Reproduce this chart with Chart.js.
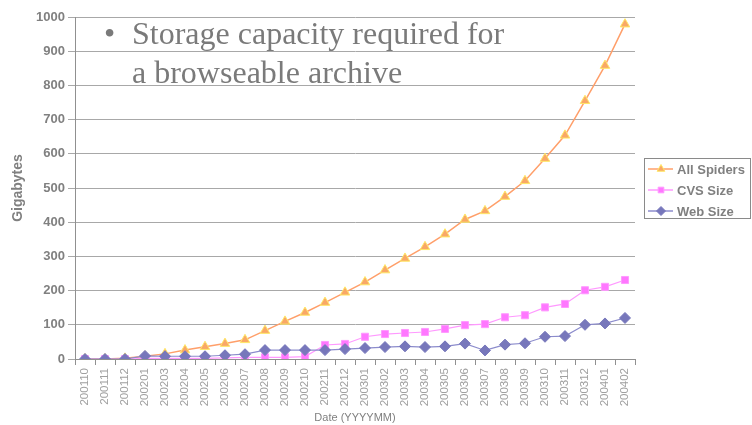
<!DOCTYPE html>
<html>
<head>
<meta charset="utf-8">
<script src="https://cdn.jsdelivr.net/npm/chart.js@4/dist/chart.umd.min.js"></script>
<style>
  html, body { margin: 0; padding: 0; background: #fff; }
  #wrap { position: relative; width: 752px; height: 425px; }
  #note {
    position: absolute; left: 104px; top: 14px;
    font-family: "Liberation Serif", "Times New Roman", serif;
    font-size: 32px; line-height: 39px; color: #7a7a7a;
    pointer-events: none;
  }
  #note .dot { display: inline-block; width: 28px; }
</style>
</head>
<body>
<div id="wrap">
  <canvas id="chart" width="752" height="425"></canvas>
  <div id="note"><span class="dot">•</span>Storage capacity required for<br><span class="dot"></span>a browseable archive</div>
</div>
<script>
// === Dữ liệu ===
const months = ['200110', '200111', '200112', '200201', '200203', '200204', '200205', '200206', '200207',
    '200208', '200209', '200210', '200211', '200212', '200301', '200302', '200303', '200304', '200305',
    '200306', '200307', '200308', '200309', '200310', '200311', '200312', '200401', '200402'];

const allSpiders = [0, 0, 2, 8, 15, 26, 36, 45, 56, 83, 110, 136, 165, 195, 225, 260, 294, 328, 365,
    408, 433, 475, 521, 586, 654, 755, 858, 979];
const cvsSize = [0, 0, 0, 2, 2, 2, 2, 3, 5, 5, 5, 7, 41, 44, 65, 73, 76, 79, 88,
    99, 102, 122, 128, 151, 161, 201, 211, 231];
const webSize = [0, 0, 0, 9, 8, 8, 8, 11, 14, 26, 26, 26, 26, 29, 32, 35, 37, 35, 37,
    45, 25, 42, 46, 65, 67, 100, 104, 120];

const yTicks = [0, 100, 200, 300, 400, 500, 600, 700, 800, 900, 1000];

const GRAY = '#808080';
const FONT = '"Liberation Sans", Arial, sans-serif';

// Chú thích có khung viền như bản gốc
const boxLegend = {
    id: 'boxLegend',
    afterDraw(chart) {
        const ctx = chart.ctx;
        const x0 = 644, y0 = 158, w = 106, h = 60;
        ctx.save();
        ctx.strokeStyle = '#8a8a8a';
        ctx.lineWidth = 1;
        ctx.strokeRect(x0 + 0.5, y0 + 0.5, w, h);
        ctx.font = 'bold 13px ' + FONT;
        ctx.textBaseline = 'middle';
        chart.data.datasets.forEach((ds, i) => {
            const y = y0 + 11 + i * 21;
            ctx.strokeStyle = ds.borderColor;
            ctx.lineWidth = 1.5;
            ctx.beginPath();
            ctx.moveTo(x0 + 4, y);
            ctx.lineTo(x0 + 29, y);
            ctx.stroke();
            // drawPoint dùng màu hiện tại của ctx
            ctx.fillStyle = ds.pointBackgroundColor;
            ctx.strokeStyle = ds.pointBorderColor;
            ctx.lineWidth = ds.pointBorderWidth;
            Chart.helpers.drawPoint(ctx, {
                pointStyle: ds.pointStyle,
                radius: ds.pointRadius - 1,
                borderWidth: ds.pointBorderWidth
            }, x0 + 17, y);
            ctx.fillStyle = GRAY;
            ctx.fillText(ds.label, x0 + 33, y + 1);
        });
        ctx.restore();
    }
};

new Chart(document.getElementById('chart'), {
    type: 'line',
    data: {
        labels: months,
        datasets: [{
            label: 'All Spiders',
            data: allSpiders,
            borderColor: '#FF9F6A',
            borderWidth: 1.5,
            pointStyle: 'triangle',
            pointRadius: 5.5,
            pointBackgroundColor: '#F9A866',
            pointBorderColor: '#FFE866',
            pointBorderWidth: 1,
            order: 3
        }, {
            label: 'CVS Size',
            data: cvsSize,
            borderColor: '#FF99FF',
            borderWidth: 1.2,
            pointStyle: 'rect',
            pointRadius: 5,
            pointBackgroundColor: '#FF77FF',
            pointBorderColor: '#FF99FF',
            pointBorderWidth: 1,
            order: 2
        }, {
            label: 'Web Size',
            data: webSize,
            borderColor: '#8C8CCC',
            borderWidth: 1.2,
            pointStyle: 'rectRot',
            pointRadius: 5.5,
            pointBackgroundColor: '#7777BB',
            pointBorderColor: '#7777BB',
            pointBorderWidth: 1,
            order: 1
        }]
    },
    options: {
        responsive: false,
        animation: false,
        layout: { padding: { top: 17, right: 117, left: 0, bottom: 0 } },
        plugins: {
            legend: { display: false },
            tooltip: { enabled: false }
        },
        elements: { line: { tension: 0 } },
        scales: {
            x: {
                offset: true,
                grid: {
                    offset: true,
                    drawOnChartArea: false,
                    drawTicks: true,
                    tickLength: 6,
                    color: '#909090'
                },
                border: { color: '#909090' },
                ticks: {
                    autoSkip: false,
                    minRotation: 90,
                    maxRotation: 90,
                    padding: 3,
                    color: '#a0a0a0',
                    font: { family: FONT, size: 11.5 }
                },
                title: {
                    display: true,
                    text: 'Date (YYYYMM)',
                    color: GRAY,
                    padding: { top: 3, bottom: 0 },
                    font: { family: FONT, size: 11 }
                },
                afterFit: scale => { scale.height = 66; }
            },
            y: {
                min: 0,
                max: 1000,
                afterBuildTicks: scale => { scale.ticks = yTicks.map(v => ({ value: v })); },
                grid: {
                    color: '#a8a8a8',
                    tickLength: 7
                },
                border: { color: '#909090' },
                ticks: {
                    color: GRAY,
                    padding: 3,
                    callback: value => String(value),
                    font: { family: FONT, size: 13, weight: 'bold' }
                },
                title: {
                    display: true,
                    text: 'Gigabytes',
                    color: GRAY,
                    padding: { top: 10, bottom: 0 },
                    font: { family: FONT, size: 14, weight: 'bold' }
                },
                afterFit: scale => { scale.width = 75; }
            }
        }
    },
    plugins: [boxLegend]
});
</script>
</body>
</html>
